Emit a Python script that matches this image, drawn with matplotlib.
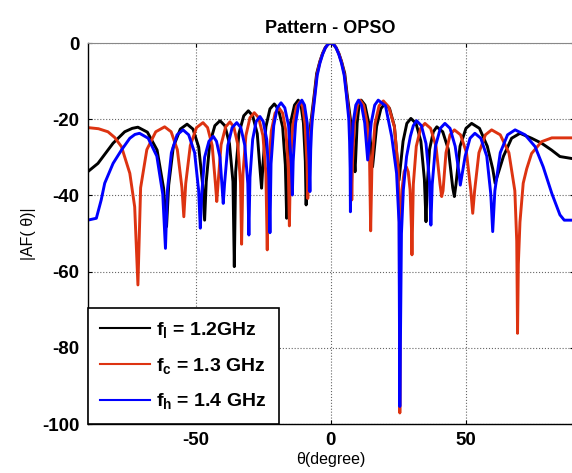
import matplotlib
matplotlib.use("Agg")
import matplotlib.pyplot as plt

plt.rcParams['font.family'] = ['Liberation Sans', 'DejaVu Sans']
plt.rcParams['mathtext.fontset'] = 'custom'
plt.rcParams['mathtext.rm'] = 'Liberation Sans'
plt.rcParams['mathtext.bf'] = 'Liberation Sans:bold'
plt.rcParams['mathtext.it'] = 'Liberation Sans:italic'
plt.rcParams['axes.unicode_minus'] = False

# |AF(theta)| in dB
theta_l = [-90, -86.2, -80.6, -76.3, -73.5, -71.4,
           -67.9, -64.3, -61.9, -60.8, -60.0, -58.3, -55.7, -53.2,
           -51.0, -48.9, -47.4, -46.7, -46.1, -44.8, -42.9, -41.0,
           -39.2, -37.5, -36.2, -35.7, -35.2, -34.0, -32.2, -30.5,
           -28.9, -27.2, -26.1, -25.6, -25.1, -24.0, -22.5, -20.9,
           -19.4, -17.8, -16.8, -16.3, -15.9, -14.9, -13.4, -12.0,
           -11.0, -10.1, -9.4, -9.1,
           -8.5, -7.9, -7.2, -6.0, -5.2, -4.0, -3.0, -2.0, -1.0, 0,
           1.0, 2.0, 3.0, 4.0, 5.2, 6.0, 7.3, 7.9, 8.5, 9.0,
           9.2, 9.8, 10.5, 11.3, 12.7, 14.1, 15.1, 15.5,
           17.0, 18.6, 20.1, 21.8, 23.6, 24.8, 25.3,
           26.8, 28.2, 29.7, 31.6, 33.4, 34.7, 35.3,
           35.7, 36.6, 38.0, 39.3, 41.5, 43.6, 45.2, 45.8,
           46.4, 47.9, 50.1, 52.2, 55.1, 58.0, 60.0, 60.9,
           64.0, 67.0, 70.1, 74.4, 78.1, 81.8, 84.9, 90]
af_l = [-33.8, -31.6, -26.3, -23.3, -22.4, -22.1,
        -23.4, -28.1, -38.1, -48.2, -37.3, -27.3, -22.6, -21.3,
        -22.6, -27.3, -37.3, -46.5, -36.4, -26.4, -21.7, -20.4,
        -21.7, -26.4, -36.4, -58.7, -33.8, -23.8, -19.1, -17.8,
        -19.1, -23.8, -33.8, -38.1, -32.0, -22.0, -17.3, -16.0,
        -17.3, -22.0, -32.0, -46.0, -31.0, -21.0, -16.3, -15.0,
        -16.3, -21.0, -31.0, -42.5,
        -28.5, -24.0, -20.0, -13.0, -8.0, -4.8, -2.7, -1.2, -0.3, 0,
        -0.3, -1.2, -2.7, -4.8, -8.0, -13.0, -20.0, -24.0, -28.5, -33.8,
        -31.0, -21.0, -16.3, -15.0, -16.3, -21.0, -29.0, -32.5,
        -21.9, -17.2, -15.9, -17.2, -21.9, -31.9, -36.0,
        -25.8, -21.1, -19.8, -21.1, -25.8, -35.8, -46.9,
        -38.0, -28.0, -23.3, -22.0, -23.3, -28.0, -38.0, -40.3,
        -37.1, -27.1, -22.4, -21.1, -22.4, -27.1, -33.0, -36.8,
        -29.7, -25.0, -23.7, -25.0, -26.3, -28.1, -29.8, -30.4]

theta_c = [-90, -86.0, -82.5, -80.0, -77.5, -74.4, -72.6, -71.4,
           -70.4, -68.1, -64.8, -61.5, -59.1, -56.8, -55.1, -54.4,
           -53.7, -52.0, -49.7, -47.3, -45.6, -43.9, -42.7, -42.2,
           -41.7, -40.6, -38.9, -37.3, -35.9, -34.4, -33.4, -33.0,
           -32.5, -31.4, -29.9, -28.3, -26.7, -25.1, -24.0, -23.5,
           -23.1, -22.0, -20.6, -19.1, -17.8, -16.6, -15.7, -15.3,
           -14.9, -14.0, -12.7, -11.4, -10.4, -9.5, -8.8, -8.5,
           -8.0, -7.5, -7.0, -5.9, -5.1, -4.0, -3.0, -2.0, -1.0, 0,
           1.0, 2.0, 3.0, 4.0, 5.1, 5.9, 7.0, 7.3, 7.6, 7.8,
           8.1, 8.8, 9.9, 10.9, 12.2, 13.5, 14.4, 14.8,
           15.3, 16.4, 17.9, 19.5, 21.5, 23.6, 25.0, 25.4, 25.6,
           25.8, 26.4, 27.2, 28.0, 28.7, 29.4, 29.9, 30.1,
           30.6, 31.7, 33.3, 34.9, 37.0, 39.0, 40.5, 41.1,
           41.6, 42.7, 44.2, 45.8, 48.1, 50.3, 51.9, 52.6,
           53.3, 54.9, 57.3, 59.6, 62.8, 66.0, 68.2, 68.9, 69.2,
           69.5, 70.1, 71.3, 72.6, 74.4, 78.1, 81.9, 90]
af_c = [-22.2, -22.5, -23.3, -24.8, -27.2, -34.2, -43.0, -63.5,
        -38.0, -28.0, -23.3, -22.0, -23.3, -28.0, -38.0, -45.6,
        -36.9, -26.9, -22.2, -20.9, -22.2, -26.9, -36.9, -41.6,
        -36.7, -26.7, -22.0, -20.7, -22.0, -26.7, -36.7, -52.8,
        -34.3, -24.3, -19.6, -18.3, -19.6, -24.3, -34.3, -54.3,
        -33.1, -23.1, -18.4, -17.1, -18.4, -23.1, -33.1, -48.0,
        -31.4, -21.4, -16.7, -15.4, -16.7, -21.4, -31.4, -40.8,
        -29.0, -23.5, -20.0, -13.5, -8.3, -5.0, -2.8, -1.25, -0.3, 0,
        -0.3, -1.25, -2.8, -5.0, -8.3, -13.5, -20.0, -25.0, -31.0, -41.2,
        -31.0, -21.0, -16.3, -15.0, -16.3, -21.0, -31.0, -49.3,
        -31.2, -21.2, -16.5, -15.2, -16.8, -22.0, -33.0, -47.0, -97.1,
        -48.5, -38.5, -33.8, -32.5, -33.8, -38.5, -48.5, -55.6,
        -37.1, -27.1, -22.4, -21.1, -22.4, -27.1, -37.1, -40.3,
        -38.8, -28.8, -24.1, -22.8, -24.1, -28.8, -38.8, -44.7,
        -38.8, -28.8, -24.1, -22.8, -24.1, -28.8, -38.8, -52.0, -76.2,
        -58.0, -47.0, -36.8, -33.0, -29.0, -25.9, -24.9, -24.9]

theta_h = [-90, -86.8, -85.0, -83.7, -80.6, -77.5, -74.4, -72.5, -70.8,
           -67.6, -64.4, -62.2, -61.2, -60.5, -59.0, -56.9, -54.7,
           -52.6, -50.4, -48.9, -48.3, -47.8, -46.7, -45.1, -43.5,
           -42.3, -41.0, -40.2, -39.8, -39.3, -38.1, -36.5, -34.8,
           -33.3, -31.8, -30.7, -30.3, -29.9, -28.9, -27.6, -26.2,
           -25.0, -23.7, -22.9, -22.5, -22.1, -21.1, -19.8, -18.4,
           -17.0, -15.6, -14.6, -14.2, -13.9, -13.0, -11.9, -10.7,
           -9.7, -8.7, -8.0, -7.7,
           -7.4, -7.1, -6.8, -5.8, -5.0, -4.0, -3.0, -2.0, -1.0, 0,
           1.0, 2.0, 3.0, 4.0, 5.0, 5.8, 6.7, 7.0, 7.2, 7.3,
           7.6, 8.3, 9.3, 10.3, 11.4, 12.6, 13.7,
           15.0, 16.3, 17.6, 20.3, 22.6, 24.4, 25.3, 25.6,
           26.2, 26.9, 28.1, 29.5, 30.6, 31.8,
           33.6, 35.3, 36.6, 37.1, 37.6, 38.8, 40.6, 42.3,
           44.2, 46.1, 47.5, 48.0, 49.8, 51.6, 53.4,
           55.6, 57.8, 59.3, 60.0, 60.8, 62.8, 65.5, 68.3,
           72.0, 75.7, 78.7, 81.9, 84.9, 86.5, 90]
af_h = [-46.5, -46.0, -41.2, -36.8, -31.6, -28.1, -25.0, -24.0, -23.7,
        -25.0, -29.7, -39.7, -53.9, -38.8, -28.8, -24.1, -22.8,
        -24.1, -28.8, -38.8, -48.6, -40.0, -30.0, -25.8, -24.5,
        -25.8, -30.0, -38.0, -42.1, -36.9, -26.9, -22.2, -20.9,
        -22.2, -26.9, -36.9, -50.4, -35.3, -25.3, -20.6, -19.3,
        -20.6, -25.3, -35.3, -49.8, -31.7, -21.7, -17.0, -15.7,
        -17.0, -21.7, -31.7, -39.9, -31.0, -21.0, -16.3, -15.0,
        -16.3, -21.0, -31.0, -39.0,
        -28.0, -23.0, -20.0, -13.5, -8.5, -5.3, -3.0, -1.3, -0.3, 0,
        -0.3, -1.3, -3.0, -5.3, -8.5, -13.5, -20.0, -26.0, -33.0, -44.3,
        -31.0, -21.0, -16.3, -15.0, -16.3, -21.0, -30.7,
        -21.0, -16.3, -15.0, -16.5, -24.6, -34.2, -47.0, -95.4,
        -50.0, -38.6, -29.8, -24.5, -21.7, -20.4,
        -21.7, -26.4, -36.4, -47.8, -37.1, -27.1, -22.4, -21.1,
        -22.4, -27.1, -34.0, -37.3, -29.7, -25.0, -23.7,
        -25.0, -29.7, -39.7, -49.5, -38.8, -28.8, -24.1, -22.8,
        -24.1, -27.2, -32.5, -39.5, -45.1, -46.5, -46.5]

labels = [r'$\mathbf{f_{l}}$ = 1.2GHz',
          r'$\mathbf{f_{c}}$ = 1.3 GHz',
          r'$\mathbf{f_{h}}$ = 1.4 GHz']
colors = ['#000000', '#dd3311', '#0000ff']

fig = plt.figure(figsize=(5.72, 4.73), dpi=100)
ax = fig.add_axes([87.7 / 572, 1 - 424 / 473, (573.7 - 87.7) / 572, (424 - 43) / 473])

series = [(theta_l, af_l), (theta_c, af_c), (theta_h, af_h)]
for (th, af), lab, col in zip(series, labels, colors):
    ax.plot(th, af, color=col, lw=2.1, label=lab, solid_joinstyle='round')

ax.set_xlim(-90, 90)
ax.set_ylim(-100, 0)
ax.set_xticks([-50, 0, 50])
ax.set_yticks([-100, -80, -60, -40, -20, 0])
ax.set_axisbelow(True)
ax.grid(True, linestyle=':', color='#666666', linewidth=0.8)
ax.tick_params(direction='in', length=3, top=True, right=True,
               labelsize=13.5, pad=6)
for lab in ax.get_xticklabels() + ax.get_yticklabels():
    lab.set_fontweight('bold')
for side in ['left', 'bottom']:
    ax.spines[side].set_linewidth(1.0)
ax.spines['top'].set_color('#888888')
ax.spines['top'].set_linewidth(0.8)

ax.set_title('Pattern - OPSO', fontsize=13, fontweight='bold', pad=7)
ax.set_xlabel('θ(degree)', fontsize=11.5, labelpad=2)
ax.set_ylabel('|AF( θ)|', fontsize=11.5, labelpad=4)

leg = ax.legend(loc='lower left', borderaxespad=0, fancybox=False,
                edgecolor='black', framealpha=1, handlelength=2.55,
                handletextpad=0.3, labelspacing=0.8, borderpad=0.65,
                prop={'weight': 'bold', 'size': 14})
leg.get_frame().set_linewidth(1.2)
for line in leg.get_lines():
    line.set_linewidth(1.5)

fig.savefig('out.png', dpi=100)
